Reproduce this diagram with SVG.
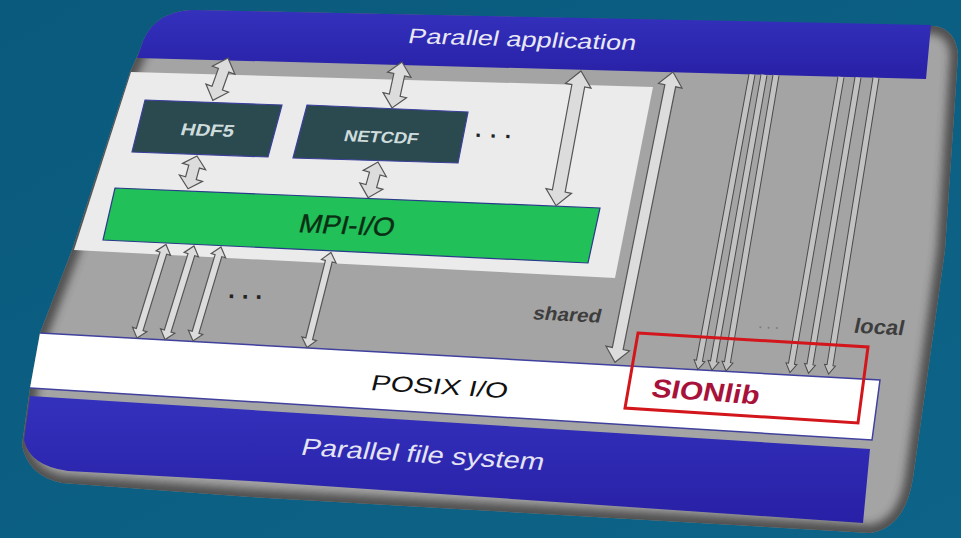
<svg xmlns="http://www.w3.org/2000/svg" width="961" height="538" viewBox="0 0 961 538">
  <defs>
    <linearGradient id="bg" x1="0" y1="0" x2="1" y2="1">
      <stop offset="0" stop-color="#0a5a7d"/>
      <stop offset="1" stop-color="#0d6488"/>
    </linearGradient>
    <linearGradient id="band" x1="0" y1="0" x2="0" y2="1">
      <stop offset="0" stop-color="#3431bd"/>
      <stop offset="1" stop-color="#2820a6"/>
    </linearGradient>
    <filter id="soft" x="-5%" y="-5%" width="110%" height="110%">
      <feGaussianBlur stdDeviation="4"/>
    </filter>
    <path id="slabShape" d="M140,50 Q150,12 192,10 L934,26 Q956,29 958,55 L945,250 L913,478 Q905,528 870,533 L250,497 L62,483 Q28,476 22,445 L30,388 L40,333 L72,250 L130,72 Z"/>
    <clipPath id="slabClip"><use href="#slabShape"/></clipPath>
    <!-- double-headed block arrow, 98 long, used between MPI-I/O and POSIX I/O -->
    <path id="arrowLow" d="M0,0 L7.5,9 L3.5,9 L3.5,89 L7.5,89 L0,98 L-7.5,89 L-3.5,89 L-3.5,9 L-7.5,9 Z"/>
    <!-- thin single-headed arrow, 300 long, open at the top -->
    <path id="arrowThin" d="M-3,0 L-3,291 L-5.5,291 L0,300 L5.5,291 L3,291 L3,0"/>
  </defs>
  <style>
    .arrow { fill: #dcdcdc; stroke: #555555; stroke-width: 1.2; stroke-linejoin: miter; }
    .thin { fill: #c2c2c2; stroke: #4a4a4a; stroke-width: 1; }
    .lbl { font-family: "Liberation Sans", Arial, sans-serif; text-anchor: middle; }
    .box { fill: #2b4a50; stroke: #3b3f9c; stroke-width: 1.2; }
  </style>

  <rect width="961" height="538" fill="url(#bg)"/>

  <!-- slab body -->
  <g id="slab">
    <use href="#slabShape" fill="#a4a4a4"/>
    <g clip-path="url(#slabClip)">
      <use href="#slabShape" fill="none" stroke="#3a3a3a" stroke-width="16" filter="url(#soft)" opacity="0.8"/>
    </g>
    <!-- light panel holding the I/O libraries -->
    <polygon points="131,72 653,87 615,278 74,250" fill="#ebebeb"/>
  </g>

  <g id="header">
    <path d="M137,58 L140,50 Q150,12 192,10 L931,25 L926,79 Z" fill="url(#band)"/>
    <text class="lbl" transform="translate(521,46.5) rotate(1.8) skewX(-11)" font-size="21" fill="#e8e8f4" textLength="228" lengthAdjust="spacingAndGlyphs">Parallel application</text>
  </g>

  <g id="hdf5">
    <polygon class="box" points="145,100 282,105 268,157 132,152"/>
    <text class="lbl" transform="translate(206,136) rotate(2) skewX(-14)" font-size="17" font-weight="bold" fill="#cfdcdc" textLength="53" lengthAdjust="spacingAndGlyphs">HDF5</text>
  </g>

  <g id="netcdf">
    <polygon class="box" points="307,105 468,112 458,163 293,158"/>
    <text class="lbl" transform="translate(380,142.5) rotate(2.5) skewX(-12)" font-size="16" font-weight="bold" fill="#cfdcdc" textLength="74" lengthAdjust="spacingAndGlyphs">NETCDF</text>
  </g>

  <g id="more-libs">
    <text class="lbl" transform="translate(493,137.5) rotate(2)" font-size="22" font-weight="bold" fill="#222222" textLength="36" lengthAdjust="spacing">...</text>
  </g>

  <g id="mpiio">
    <polygon points="115,188 600,208 588,263 103,240" fill="#21c058" stroke="#2a3a8a" stroke-width="1.2"/>
    <text class="lbl" transform="translate(345,234) rotate(2.4) skewX(-12)" font-size="26" fill="#0b2d14" stroke="#0b2d14" stroke-width="0.4" textLength="95" lengthAdjust="spacingAndGlyphs">MPI-I/O</text>
  </g>

  <g id="posix">
    <polygon points="40,333 880,380 872,440 30,388" fill="#ffffff"/>
    <path d="M40,333 L880,380 L872,440 L30,388" fill="none" stroke="#40409e" stroke-width="1.5"/>
    <text class="lbl" transform="translate(438,394) rotate(3.4) skewX(-10)" font-size="22" fill="#111111" textLength="137" lengthAdjust="spacingAndGlyphs">POSIX I/O</text>
  </g>

  <g id="pfs">
    <path d="M30,396 L870,449 L863,523 L250,481 L68,471 Q30,466 24,440 Z" fill="url(#band)"/>
    <text class="lbl" transform="translate(421,462.5) rotate(3.6) skewX(-12)" font-size="24" fill="#e4e4f2" textLength="243" lengthAdjust="spacingAndGlyphs">Parallel file system</text>
  </g>

  <g id="connectors">
    <!-- application / libraries / MPI-I/O -->
    <path class="arrow" transform="translate(228,58) rotate(19.7)" d="M0,0 L12,13 L5.5,13 L5.5,32 L12,32 L0,45 L-12,32 L-5.5,32 L-5.5,13 L-12,13 Z"/>
    <path class="arrow" transform="translate(402,62) rotate(12.3)" d="M0,0 L12,13 L5.5,13 L5.5,34 L12,34 L0,47 L-12,34 L-5.5,34 L-5.5,13 L-12,13 Z"/>
    <path class="arrow" transform="translate(197,156) rotate(15.3)" d="M0,0 L12,11 L5.5,11 L5.5,23 L12,23 L0,34 L-12,23 L-5.5,23 L-5.5,11 L-12,11 Z"/>
    <path class="arrow" transform="translate(378,162) rotate(15.5)" d="M0,0 L12,12 L5.5,12 L5.5,25 L12,25 L0,37 L-12,25 L-5.5,25 L-5.5,12 L-12,12 Z"/>
    <path class="arrow" transform="translate(581,71) rotate(10.5)" d="M0,0 L13,15 L6.5,15 L6.5,122 L13,122 L0,137 L-13,122 L-6.5,122 L-6.5,15 L-13,15 Z"/>
    <!-- shared file access -->
    <path class="arrow" transform="translate(673,72) rotate(11.3)" d="M0,0 L12,14 L5.5,14 L5.5,282 L12,282 L0,296 L-12,282 L-5.5,282 L-5.5,14 L-12,14 Z"/>
    <!-- MPI-I/O to POSIX I/O -->
    <use href="#arrowLow" class="arrow" transform="translate(166,244.5) rotate(17.2)"/>
    <use href="#arrowLow" class="arrow" transform="translate(194,246) rotate(17.2)"/>
    <use href="#arrowLow" class="arrow" transform="translate(221,247) rotate(16.6)"/>
    <use href="#arrowLow" class="arrow" transform="translate(331,252.5) rotate(14.2)"/>
    <!-- task-local files -->
    <use href="#arrowThin" class="thin" transform="translate(752,74.5) rotate(10.4)"/>
    <use href="#arrowThin" class="thin" transform="translate(764,74.8) rotate(10.0)"/>
    <use href="#arrowThin" class="thin" transform="translate(776,75.2) rotate(9.6)"/>
    <use href="#arrowThin" class="thin" transform="translate(841,77) rotate(9.8)"/>
    <use href="#arrowThin" class="thin" transform="translate(858,77.4) rotate(9.5)"/>
    <use href="#arrowThin" class="thin" transform="translate(876,77.9) rotate(9.1)"/>
    <text class="lbl" transform="translate(245,298.5) rotate(2)" font-size="24" font-weight="bold" fill="#222222" textLength="34" lengthAdjust="spacing">...</text>
    <text class="lbl" transform="translate(768.5,328.5) rotate(3)" font-size="16" fill="#7a7a7a" textLength="21" lengthAdjust="spacing">...</text>
    <text class="lbl" transform="translate(566,321) rotate(3) skewX(-11)" font-size="19" font-weight="bold" fill="#3d3d3d" textLength="68" lengthAdjust="spacingAndGlyphs">shared</text>
    <text class="lbl" transform="translate(878,334) rotate(3) skewX(-9)" font-size="21" font-weight="bold" fill="#3d3d3d" textLength="50" lengthAdjust="spacingAndGlyphs">local</text>
  </g>

  <g id="sionlib">
    <polygon points="638,333 868,347 858,423 625,408" fill="none" stroke="#d3161c" stroke-width="3"/>
    <text class="lbl" transform="translate(704,400.5) rotate(4) skewX(-8)" font-size="26" font-weight="bold" fill="#a8123a" textLength="108" lengthAdjust="spacingAndGlyphs">SIONlib</text>
  </g>
</svg>
